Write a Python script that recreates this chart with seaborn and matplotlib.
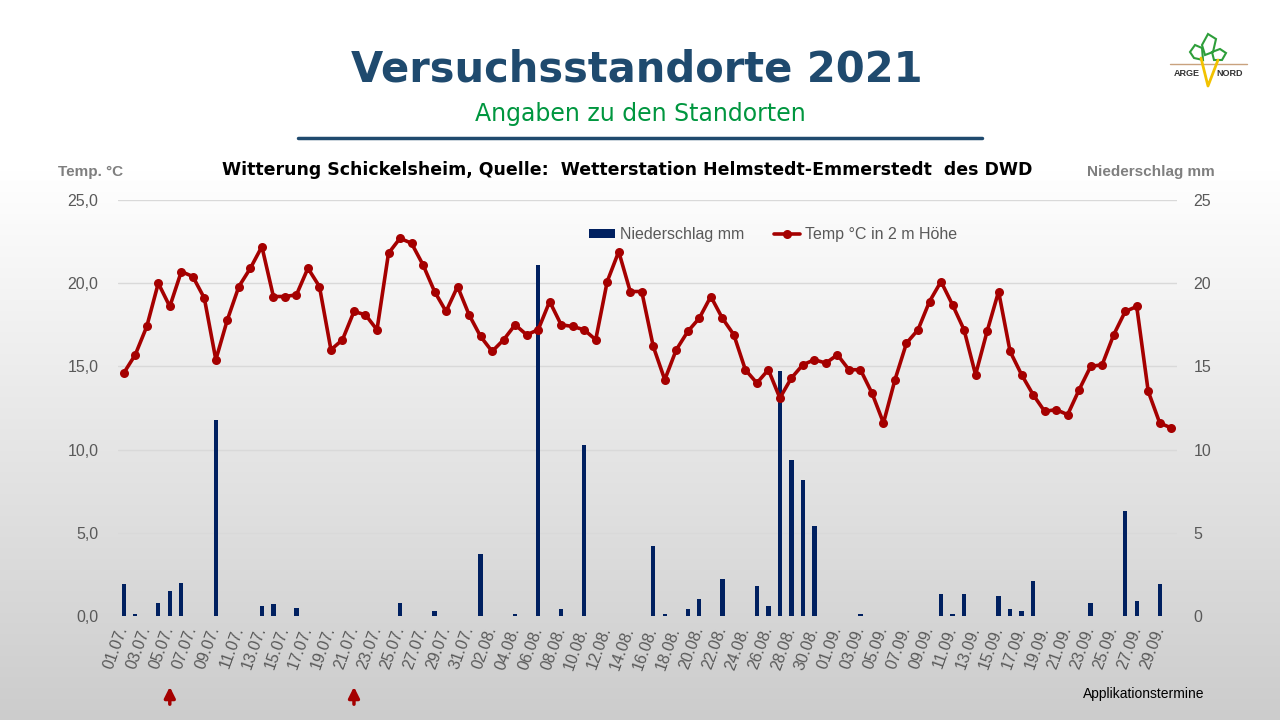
import matplotlib
matplotlib.use("Agg")
import matplotlib.pyplot as plt
import matplotlib.transforms as mtransforms
from matplotlib.lines import Line2D
from matplotlib.patches import Patch, Polygon
import numpy as np
import pandas as pd
import seaborn as sns

# Tageswerte 01.07. - 30.09.2021
temp_juli = [14.6, 15.7, 17.4, 20.0, 18.6, 20.7, 20.4, 19.1, 15.4, 17.8,
             19.8, 20.9, 22.2, 19.2, 19.2, 19.3, 20.9, 19.8, 16.0, 16.6,
             18.3, 18.1, 17.2, 21.8, 22.7, 22.4, 21.1, 19.5, 18.3, 19.8, 18.1]
temp_aug = [16.8, 15.9, 16.6, 17.5, 16.9, 17.2, 18.9, 17.5, 17.4, 17.2,
            16.6, 20.1, 21.9, 19.5, 19.5, 16.2, 14.2, 16.0, 17.1, 17.9,
            19.2, 17.9, 16.9, 14.8, 14.0, 14.8, 13.1, 14.3, 15.1, 15.4, 15.2]
temp_sep = [15.7, 14.8, 14.8, 13.4, 11.6, 14.2, 16.4, 17.2, 18.9, 20.1,
            18.7, 17.2, 14.5, 17.1, 19.5, 15.9, 14.5, 13.3, 12.3, 12.4,
            12.1, 13.6, 15.0, 15.1, 16.9, 18.3, 18.6, 13.5, 11.6, 11.3]

regen_juli = [1.9, 0.1, 0, 0.8, 1.5, 2.0, 0, 0, 11.8, 0,
              0, 0, 0.6, 0.7, 0, 0.5, 0, 0, 0, 0,
              0, 0, 0, 0, 0.8, 0, 0, 0.3, 0, 0, 0]
regen_aug = [3.7, 0, 0, 0.1, 0, 21.1, 0, 0.4, 0, 10.3,
             0, 0, 0, 0, 0, 4.2, 0.1, 0, 0.4, 1.0,
             0, 2.2, 0, 0, 1.8, 0.6, 14.7, 9.4, 8.2, 5.4, 0]
regen_sep = [0, 0, 0.1, 0, 0, 0, 0, 0, 0, 1.3,
             0.1, 1.3, 0, 0, 1.2, 0.4, 0.3, 2.1, 0, 0,
             0, 0, 0.8, 0, 0, 6.3, 0.9, 0, 1.9, 0]

applikation = ["05.07.", "21.07."]

tage = pd.date_range("2021-07-01", "2021-09-30", freq="D").strftime("%d.%m.").tolist()
df = pd.DataFrame({
    "Tag": tage,
    "Temp": temp_juli + temp_aug + temp_sep,
    "Niederschlag": regen_juli + regen_aug + regen_sep,
})
df["pos"] = range(len(df))

BLAU = "#1f4a6e"
ROT = "#a50000"
NAVY = "#002060"
GRAU = "#595959"

sns.set_theme(style="white")
plt.rcParams["font.family"] = ["Liberation Sans", "DejaVu Sans"]

fig = plt.figure(figsize=(12.8, 7.2), dpi=100)


def px(x, y):
    return x / 1280, 1 - y / 720


# Hintergrund mit Verlauf
bg = fig.add_axes([0, 0, 1, 1], zorder=-10)
g = np.interp(np.arange(720), [0, 170, 720], [1.0, 1.0, 0.80])
bg.imshow(np.dstack([g, g, g]).reshape(720, 1, 3), aspect="auto",
          extent=[0, 1, 0, 1])
bg.axis("off")

# Diagramm
ax = fig.add_axes([118 / 1280, 1 - 616 / 720, 1059 / 1280, 416 / 720])
ax2 = ax.twinx()

sns.barplot(data=df, x="pos", y="Niederschlag", ax=ax2, color=NAVY,
            width=0.38, saturation=1, errorbar=None, linewidth=0)
sns.lineplot(data=df, x="pos", y="Temp", ax=ax, color=ROT, linewidth=2.6,
             marker="o", markersize=6.5, markeredgewidth=0)

ax.set_zorder(ax2.get_zorder() + 1)
ax.patch.set_visible(False)
ax2.patch.set_visible(False)

for a in (ax, ax2):
    a.set_ylim(0, 25)
    a.set_yticks(range(0, 26, 5))
    a.set_xlabel("")
    a.set_ylabel("")
    for s in a.spines.values():
        s.set_visible(False)
ax.set_xlim(-0.5, len(df) - 0.5)

ax2.yaxis.grid(True, color="#d9d9d9", linewidth=1)
ax.yaxis.grid(False)
ax.xaxis.grid(False)

ax.set_yticklabels([f"{v:.1f}".replace(".", ",") for v in range(0, 26, 5)])
ax2.set_yticklabels([str(v) for v in range(0, 26, 5)])
ax.tick_params(axis="y", length=0, pad=14, labelsize=11.5, labelcolor=GRAU)
ax2.tick_params(axis="y", length=0, pad=12, labelsize=11.5, labelcolor=GRAU)

ax.set_xticks(df["pos"][::2])
ax.set_xticklabels(df["Tag"][::2], rotation=70, ha="right", va="center",
                   rotation_mode="anchor")
ax.tick_params(axis="x", length=0, pad=8, labelsize=11.5, labelcolor=GRAU)

# Legende
handles = [Patch(facecolor=NAVY, edgecolor="none"),
           Line2D([], [], color=ROT, linewidth=2.6, marker="o", markersize=6.5,
                  markeredgewidth=0)]
fig.legend(handles, ["Niederschlag mm", "Temp °C in 2 m Höhe"],
           loc="center", bbox_to_anchor=px(773, 235), ncol=2, frameon=False,
           fontsize=11.5, labelcolor=GRAU, handlelength=1.6, handleheight=0.5,
           columnspacing=1.9, handletextpad=0.3)

# Achsentitel
fig.text(*px(91, 172), "Temp. °C", ha="center", va="center", fontsize=11,
         fontweight="bold", color="#7f7f7f")
fig.text(*px(1151, 172), "Niederschlag mm", ha="center", va="center",
         fontsize=11, fontweight="bold", color="#7f7f7f")

# Überschriften
fig.text(*px(637, 70), "Versuchsstandorte 2021", ha="center", va="center",
         fontsize=30, fontweight="bold", color=BLAU, family="DejaVu Sans")
fig.text(*px(640, 114), "Angaben zu den Standorten", ha="center", va="center",
         fontsize=17, color="#00963f", family="DejaVu Sans")
fig.add_artist(Line2D([298 / 1280, 982 / 1280], [1 - 138 / 720] * 2,
                      color=BLAU, linewidth=2.5))
fig.text(*px(627, 170),
         "Witterung Schickelsheim, Quelle:  Wetterstation Helmstedt-Emmerstedt  des DWD",
         ha="center", va="center", fontsize=12.5, fontweight="bold",
         color="black", family="DejaVu Sans")

# Applikationstermine
trans = mtransforms.blended_transform_factory(ax.transData, fig.transFigure)
for d in applikation:
    p = tage.index(d)
    ax.annotate("", xy=(p, 1 - 684 / 720), xycoords=trans,
                xytext=(p, 1 - 707 / 720), textcoords=trans,
                arrowprops=dict(arrowstyle="-|>", color=ROT, lw=2.5,
                                mutation_scale=16), annotation_clip=False)
fig.text(*px(1204, 694), "Applikationstermine", ha="right", va="center",
         fontsize=10, color="black")

# Logo (vereinfacht)
fig.add_artist(Line2D([1170 / 1280, 1247 / 1280], [1 - 64 / 720] * 2,
                      color="#c9a27e", linewidth=1))
for pts in ([(1190, 52), (1195, 45), (1202, 48), (1203, 60), (1194, 58)],
            [(1202, 45), (1208, 34), (1216, 39), (1213, 52), (1205, 55)],
            [(1212, 52), (1220, 49), (1226, 53), (1222, 60), (1214, 60)]):
    fig.add_artist(Polygon([px(*q) for q in pts], closed=True, fill=False,
                           edgecolor="#2e9e3a", linewidth=1.5))
fig.add_artist(Line2D([1201 / 1280, 1208 / 1280, 1218 / 1280],
                      [1 - 58 / 720, 1 - 86 / 720, 1 - 60 / 720],
                      color="#f2c200", linewidth=2))
fig.text(*px(1187, 74), "ARGE", ha="center", va="center", fontsize=6.5,
         fontweight="bold", color="#333333")
fig.text(*px(1230, 74), "NORD", ha="center", va="center", fontsize=6.5,
         fontweight="bold", color="#333333")

fig.savefig("out.png", dpi=100)
